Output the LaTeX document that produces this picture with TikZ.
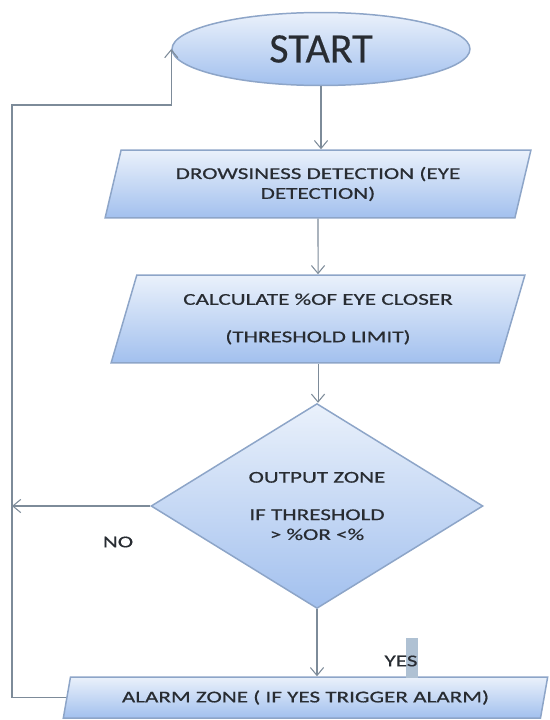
\documentclass[tikz,border=0pt]{standalone}
\usepackage{fontspec}
\setmainfont{Carlito}[FakeStretch=1.4,FakeBold=0.6]
\newfontfamily\startfont{Carlito}[FakeBold=0.4]
\usetikzlibrary{shapes.geometric,arrows.meta}
\definecolor{edgeblue}{HTML}{8DA5C8}
\definecolor{filltop}{HTML}{EAF1FB}
\definecolor{fillbot}{HTML}{A2C0EE}
\definecolor{linegray}{HTML}{7D8B99}
\definecolor{txtgray}{HTML}{282C32}
\definecolor{yesbar}{HTML}{AFC1D3}

\begin{document}
\begin{tikzpicture}[x=0.02cm,y=-0.02cm,
  every node/.style={text=txtgray,font=\fontsize{9.4}{11.3}\selectfont},
  blob/.style={draw=edgeblue,line width=0.85pt,top color=filltop,bottom color=fillbot,inner sep=0pt},
  iobox/.style={blob,trapezium,trapezium stretches=true,align=center},
  arr/.style={draw=linegray,line width=0.6pt,-{Straight Barb[length=4.5pt,width=7.5pt]}}
]
\useasboundingbox (0,0) rectangle (549,720);
% flow boxes
\node[blob,ellipse,minimum width=5.96cm,minimum height=1.46cm,
  font={\startfont\fontsize{23.9}{28}\selectfont}] (start) at (321,49) {START};
\node[iobox,trapezium left angle=71.3,trapezium right angle=108.7,
  minimum width=8.52cm,minimum height=1.36cm] (drow) at (318,184)
  {DROWSINESS DETECTION (EYE\\DETECTION)};
\node[iobox,trapezium left angle=69.4,trapezium right angle=110.6,
  minimum width=8.28cm,minimum height=1.76cm] (calc) at (318,319)
  {CALCULATE \%OF EYE CLOSER\\[10pt](THRESHOLD LIMIT)};
\node[blob,diamond,minimum width=6.64cm,minimum height=3.64cm,align=center] (dec) at (317,506)
  {OUTPUT ZONE\\[10pt]IF THRESHOLD\\> \%OR <\%};
\node[iobox,trapezium left angle=68.7,trapezium right angle=111.3,
  minimum width=9.7cm,minimum height=0.82cm] (alarm) at (305.5,697.5)
  {ALARM ZONE ( IF YES TRIGGER ALARM)};
% labels
\node (no) at (118,542) {NO};
\fill[yesbar] (406,638) rectangle (418,678);
\node (yes) at (401,661) {YES};
% connectors
\coordinate (ltop) at (12,105);
\draw[arr] (start.south) -- (start.south |- drow.north);
\draw[arr] (drow.south) -- (calc.north);
\draw[arr] (calc.south) -- (calc.south |- dec.north);
\draw[arr] (dec.south) -- (dec.south |- alarm.north);
\draw[arr] (dec.west) -- (dec.west -| ltop);
\draw[arr] (alarm.west) -| (ltop) -| (start.west);
\end{tikzpicture}
\end{document}
